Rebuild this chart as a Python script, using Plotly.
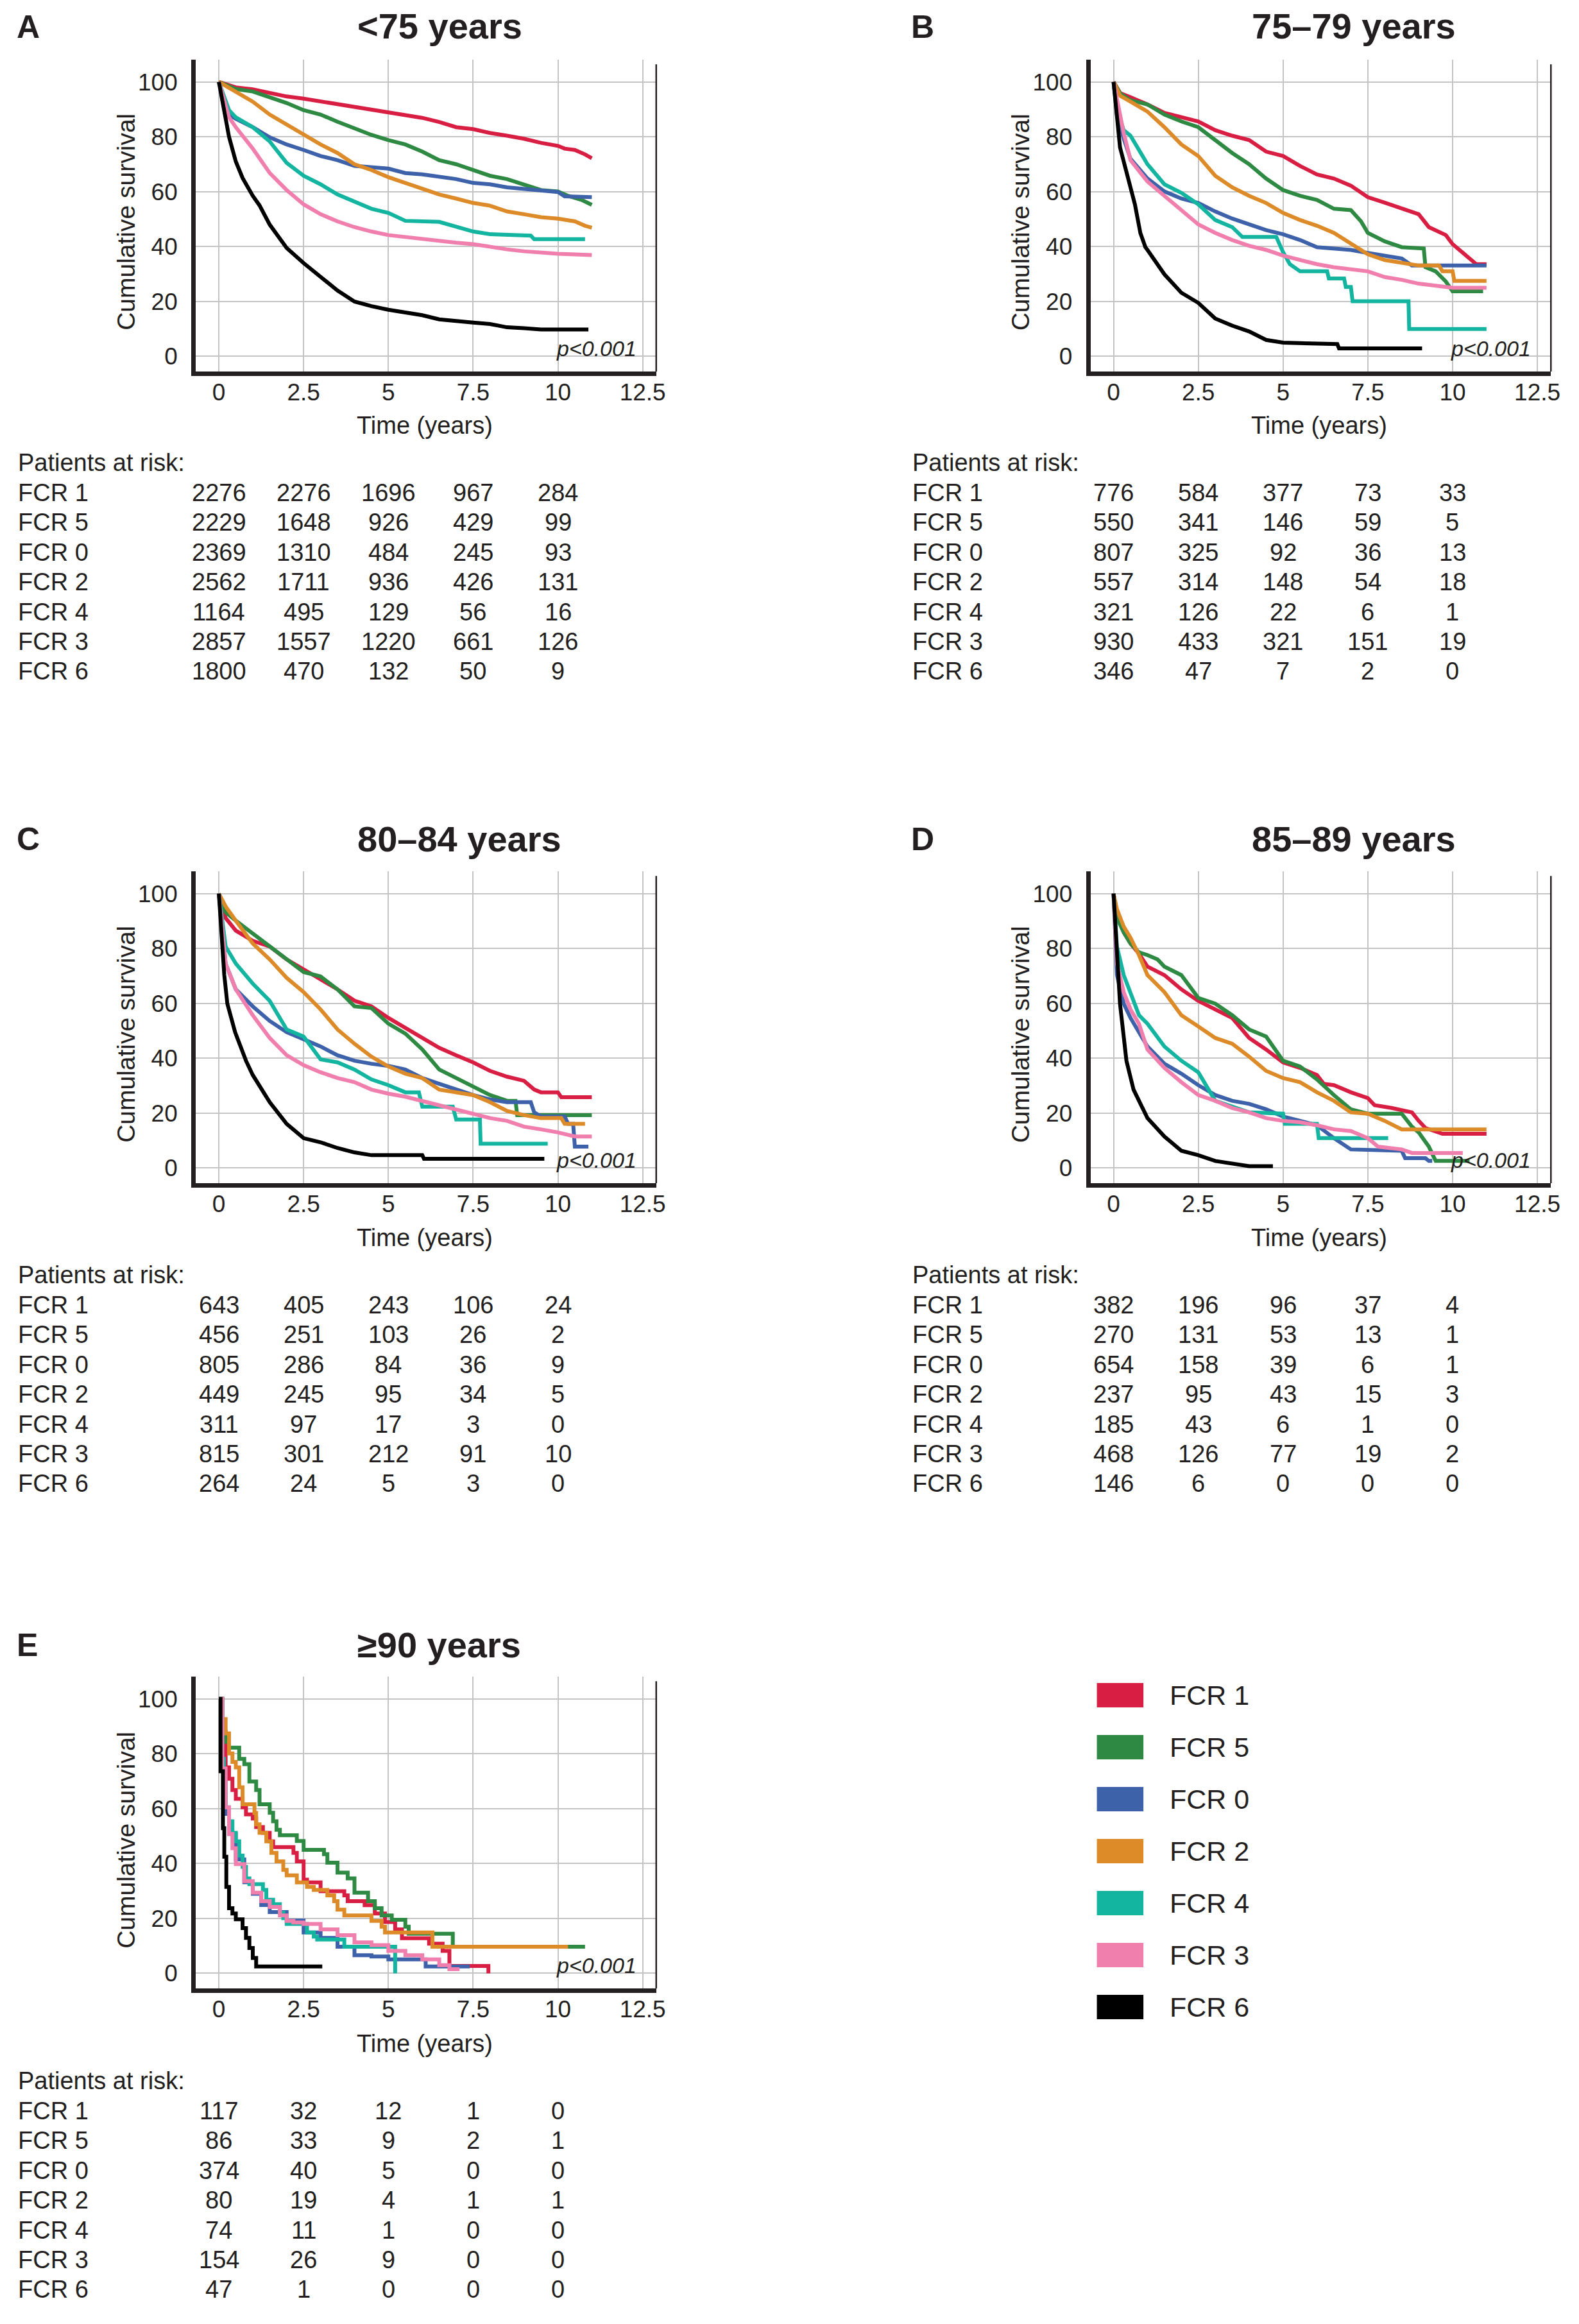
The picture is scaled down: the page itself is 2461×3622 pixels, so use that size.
import plotly.graph_objects as go

W, H = 2461, 3622
FONT = "Liberation Sans, Arial, Helvetica, sans-serif"
INK = "#231F20"

groups = ["FCR 1", "FCR 5", "FCR 0", "FCR 2", "FCR 4", "FCR 3", "FCR 6"]
colors = ["#D81E42", "#2E8A43", "#3D62AA", "#DD8A28", "#14B5A0", "#F07FAD", "#000000"]
panel_ids = ["A", "B", "C", "D", "E"]
titles = ["<75 years", "75–79 years", "80–84 years", "85–89 years", "≥90 years"]
risk_times = [0, 2.5, 5, 7.5, 10]
x_ticks = [0, 2.5, 5, 7.5, 10, 12.5]
x_tick_text = ["0", "2.5", "5", "7.5", "10", "12.5"]
y_ticks = [0, 20, 40, 60, 80, 100]

# ---------------- Panel A (<75 years) ----------------
A1_t = [0, 0.5, 1, 2, 2.5, 5, 6, 6.5, 7, 7.5, 8, 8.5, 9, 9.5, 10, 10.2, 10.5, 10.8, 11.0]
A1_s = [100, 98, 97.3, 94.7, 93.9, 88.7, 86.9, 85.4, 83.5, 82.8, 81.4, 80.4, 79.3, 77.8, 76.7, 75.7, 75.2, 73.6, 72.2]
A5_t = [0, 0.5, 1, 2, 2.5, 3, 3.5, 4, 4.5, 5, 5.5, 6, 6.5, 7, 7.5, 8, 8.5, 9, 9.5, 10, 10.3, 10.7, 11]
A5_s = [100, 97.4, 96.5, 92.3, 89.7, 88.1, 85.5, 83, 80.7, 78.8, 77.2, 74.6, 71.5, 70, 67.9, 65.8, 64.6, 62.7, 60.6, 60.1, 58.5, 57, 55.2]
A0_t = [0, 0.3, 0.5, 1, 1.5, 2, 2.5, 3, 3.5, 4, 5, 5.5, 6, 6.5, 7, 7.5, 8, 8.5, 9, 9.5, 10, 10.2, 11]
A0_s = [100, 88, 86.6, 83.5, 79.8, 77.2, 75.2, 73, 71.5, 69.4, 68.4, 66.8, 66.3, 65.5, 64.6, 63.2, 62.7, 61.6, 61.1, 60.4, 59.9, 58.3, 58]
A2_t = [0, 0.5, 1, 1.5, 2, 2.5, 3, 3.5, 4, 4.5, 5, 5.5, 6, 6.5, 7, 7.5, 8, 8.5, 9, 9.5, 10, 10.5, 10.8, 11]
A2_s = [100, 96.5, 92.8, 88.1, 84.5, 80.9, 77.2, 74.1, 70, 67.9, 65.3, 63.2, 61.1, 59, 57.5, 55.9, 54.9, 52.8, 51.8, 50.7, 50.2, 49.2, 47.6, 46.9]
A4_t = [0, 0.3, 0.5, 1, 1.5, 2, 2.5, 3, 3.5, 4, 4.5, 5, 5.5, 6.5, 7, 7.5, 8, 9.2, 9.3, 10.8]
A4_s = [100, 89.7, 87.1, 83.5, 78.3, 70.5, 65.8, 62.7, 59, 56.4, 53.8, 52.3, 49.4, 49, 47.1, 45.5, 44.5, 44, 42.7, 42.7]
A3_t = [0, 0.3, 0.5, 1, 1.5, 2, 2.5, 3, 3.5, 4, 4.5, 5, 5.5, 6, 6.5, 7, 7.5, 8, 8.5, 9, 9.5, 10, 11]
A3_s = [100, 87.1, 83.5, 75.7, 66.8, 60.6, 55.4, 51.8, 49.2, 47.1, 45.5, 44.2, 43.5, 42.7, 41.9, 41.4, 40.9, 39.8, 39, 38.3, 37.7, 37.4, 36.9]
A6_t = [0, 0.1, 0.2, 0.3, 0.5, 0.7, 1, 1.2, 1.5, 2, 2.5, 3, 3.5, 4, 4.5, 5, 5.5, 6, 6.5, 7, 7.5, 8, 8.5, 9, 9.5, 10.9]
A6_s = [100, 93, 86, 80, 71, 65, 58.5, 55, 48, 39.5, 34, 29, 24, 20, 18.3, 17, 16, 15, 13.5, 12.8, 12.3, 11.8, 10.6, 10.3, 9.8, 9.8]

# ---------------- Panel B (75–79 years) ----------------
B1_t = [0, 0.2, 0.5, 1, 1.5, 2, 2.5, 3, 3.5, 4, 4.5, 5, 5.5, 6, 6.5, 7, 7.5, 8, 8.5, 9, 9.3, 9.5, 9.8, 10, 10.3, 10.5, 10.7, 11]
B1_s = [100, 95.9, 94.4, 91.8, 88.7, 87.1, 85.6, 82.4, 80.4, 78.8, 74.6, 73, 69.4, 66.3, 64.8, 62.2, 58, 56, 53.8, 51.8, 47.1, 46, 44.2, 40.9, 37.7, 35.7, 33.6, 33.6]
B5_t = [0, 0.2, 0.5, 1, 1.5, 2, 2.5, 3, 3.5, 4, 4.5, 5, 5.5, 6, 6.5, 7, 7.3, 7.5, 8, 8.5, 9.15, 9.2, 9.5, 9.8, 10, 10.9]
B5_s = [100, 95.7, 93.3, 91.8, 88.1, 85.6, 83.5, 78.8, 74.1, 70, 64.8, 60.6, 58.5, 57, 53.8, 53.3, 49.2, 45, 41.9, 39.8, 39.3, 32.5, 31, 27.3, 23.7, 23.7]
B0_t = [0, 0.1, 0.3, 0.5, 1, 1.5, 2, 2.5, 3, 3.5, 4, 4.5, 5, 5.5, 6, 6.5, 7, 7.5, 8, 8.5, 8.8, 11]
B0_s = [100, 88, 79.3, 72, 64.8, 60.1, 57.5, 55.9, 52.8, 50.2, 48.1, 46, 44.5, 42.4, 39.8, 39.3, 38.8, 37.7, 36.7, 35.7, 33.1, 33.1]
B2_t = [0, 0.2, 0.5, 1, 1.5, 2, 2.5, 3, 3.5, 4, 4.5, 5, 5.5, 6, 6.5, 7, 7.5, 8, 8.5, 9, 9.6, 9.7, 10, 10.05, 11]
B2_s = [100, 94.9, 92.8, 89.2, 83.5, 77.2, 73, 65.8, 61.6, 58.5, 55.9, 52.3, 49.7, 47.6, 45, 40.9, 37.2, 35.1, 34.1, 33.1, 33.1, 31, 31, 27.5, 27.5]
B4_t = [0, 0.1, 0.3, 0.5, 1, 1.5, 2, 2.5, 3, 3.5, 3.8, 4.8, 5, 5.2, 5.5, 6.3, 6.35, 6.8, 6.85, 7.0, 7.05, 8.7, 8.72, 11]
B4_s = [100, 90, 82.4, 80.4, 70, 62.7, 59.6, 55.4, 49.7, 47.1, 43.5, 43.5, 38, 33.6, 31, 31, 28.4, 28.4, 25.3, 25.3, 20.1, 20.1, 10, 10]
B3_t = [0, 0.3, 0.5, 1, 1.5, 2, 2.5, 3, 3.5, 4, 4.5, 5, 5.5, 6, 6.5, 7, 7.5, 8, 8.5, 9, 9.5, 10, 11]
B3_s = [100, 81.4, 71.5, 63.7, 58.5, 53.3, 48.1, 45, 42.4, 40.3, 38.8, 36.7, 35.1, 33.6, 32.5, 31.7, 31, 28.9, 27.9, 26.5, 25.8, 25, 25]
B6_t = [0, 0.12, 0.19, 0.41, 0.63, 0.79, 0.94, 1, 1.5, 2, 2.5, 3, 3.5, 4, 4.5, 5, 6.6, 6.65, 9.1]
B6_s = [100, 86.6, 76.2, 65.8, 55.4, 45, 39.8, 38.8, 29.9, 23.2, 19.5, 13.8, 11.2, 9.1, 6, 5, 4.5, 2.9, 2.9]

# ---------------- Panel C (80–84 years) ----------------
C1_t = [0, 0.2, 0.5, 1, 1.5, 2, 2.5, 3, 3.5, 4, 4.5, 5, 5.5, 6, 6.5, 7, 7.5, 8, 8.5, 9, 9.3, 9.5, 10, 10.1, 11]
C1_s = [100, 91.1, 86.5, 82.8, 80.7, 76, 72.4, 68.8, 65.1, 61, 58.9, 54.7, 51, 47.4, 43.8, 41.1, 38.5, 35.4, 33.3, 31.8, 28.6, 27.6, 27.6, 25.8, 25.8]
C5_t = [0, 0.2, 0.5, 1, 1.5, 2, 2.5, 3, 3.5, 4, 4.5, 5, 5.5, 6, 6.5, 7, 7.5, 8, 8.5, 8.75, 8.8, 11]
C5_s = [100, 93.2, 90.1, 85.4, 80.7, 76, 71.4, 69.8, 65.1, 58.9, 58.3, 52.6, 49, 43.2, 35.9, 32.8, 29.7, 26.6, 24.5, 24.5, 19.3, 19.3]
C0_t = [0, 0.2, 0.5, 1, 1.5, 2, 2.5, 3, 3.5, 4, 4.5, 5, 5.5, 6, 6.5, 7, 7.5, 8, 8.5, 9.2, 9.3, 9.5, 10.2, 10.3, 10.45, 10.5, 10.9]
C0_s = [100, 74.5, 65.1, 58.9, 53.6, 49.5, 46.9, 44.3, 41.1, 39.1, 38, 37.2, 35.9, 32.8, 30.7, 28.6, 26.6, 25, 24, 24, 20.3, 18.8, 18.8, 16.1, 16.1, 7.8, 7.8]
C2_t = [0, 0.2, 0.5, 1, 1.5, 2, 2.5, 3, 3.5, 4, 4.5, 5, 5.5, 6, 6.5, 7, 7.5, 8, 8.5, 9, 9.5, 10.1, 10.2, 10.8]
C2_s = [100, 95.3, 90.1, 81.8, 76, 69.3, 64.1, 57.8, 50.5, 45.3, 40.6, 37, 34.4, 32.8, 28.6, 27.6, 26.6, 24, 20.8, 19.3, 18.2, 18.2, 16.1, 16.1]
C4_t = [0, 0.2, 0.5, 1, 1.5, 2, 2.5, 3, 3.5, 4, 4.5, 5, 5.5, 5.9, 6.0, 6.9, 7.0, 7.7, 7.72, 9.7]
C4_s = [100, 80.7, 74.5, 67.2, 60.9, 50.5, 47.9, 39.6, 38.5, 35.9, 32.3, 30.2, 27.6, 27.6, 22.4, 22.4, 17.7, 17.7, 8.9, 8.9]
C3_t = [0, 0.2, 0.5, 1, 1.5, 2, 2.5, 3, 3.5, 4, 4.5, 5, 5.5, 6, 6.5, 7, 7.5, 8, 8.5, 9, 9.5, 10, 10.5, 11]
C3_s = [100, 74.5, 65.1, 55.7, 47.4, 41.1, 37.5, 34.9, 32.8, 31.3, 28.6, 27.1, 26, 24.5, 22.9, 21.4, 19.8, 18.2, 17.2, 15.1, 14.1, 13, 11.5, 11.5]
C6_t = [0, 0.06, 0.16, 0.25, 0.48, 0.8, 1, 1.5, 2, 2.5, 3, 3.5, 4, 4.5, 6, 6.05, 9.6]
C6_s = [100, 88, 70.3, 59.9, 49.5, 39.1, 33.9, 24, 16.1, 10.9, 9.4, 7.3, 5.7, 4.7, 4.7, 3.4, 3.4]

# ---------------- Panel D (85–89 years) ----------------
D1_t = [0, 0.1, 0.3, 0.5, 0.75, 1, 1.5, 2, 2.5, 3, 3.5, 4, 4.5, 5, 5.5, 6, 6.2, 6.5, 7, 7.5, 7.7, 8.2, 8.8, 9, 9.2, 9.7, 11]
D1_s = [100, 92.2, 85.9, 81.8, 78.1, 73.4, 70.3, 65.1, 60.9, 57.8, 54.7, 47.4, 43.2, 38.5, 36.5, 33.9, 30.7, 30.2, 27.6, 25.5, 22.9, 21.9, 20.3, 17.2, 14.6, 12.5, 12.5]
D5_t = [0, 0.1, 0.3, 0.5, 0.75, 1, 1.3, 1.5, 2, 2.5, 3, 3.5, 4, 4.5, 5, 5.5, 6, 6.5, 7, 7.5, 8.5, 8.8, 9, 9.3, 9.5, 10.5]
D5_s = [100, 91.1, 85.9, 81.8, 78.6, 77.6, 76, 73.4, 70.3, 62, 59.9, 55.7, 50.5, 47.9, 39.1, 37, 32.3, 26.6, 21.4, 19.8, 19.8, 15.1, 13, 7.8, 2.6, 2.6]
D0_t = [0, 0.1, 0.3, 0.5, 1, 1.5, 2, 2.5, 3, 3.5, 4, 4.5, 5, 5.5, 6, 6.5, 7, 8.5, 8.6, 9.2, 9.3, 9.4]
D0_s = [100, 70.3, 59.9, 54.7, 44.3, 38, 34.4, 30.2, 26.6, 24.5, 23.4, 21.4, 18.8, 17.2, 15.6, 10.9, 6.8, 6.3, 3.6, 3.6, 2.6, 2.6]
D2_t = [0, 0.1, 0.3, 0.5, 0.75, 1, 1.5, 2, 2.5, 3, 3.5, 4, 4.5, 5, 5.5, 6, 6.5, 7, 7.5, 8, 8.5, 11]
D2_s = [100, 94.3, 88, 83.9, 77.6, 70.3, 64.1, 55.7, 51.6, 47.4, 45.3, 40.6, 35.4, 32.8, 31.3, 27.6, 24.5, 20.3, 19.8, 17.2, 14.1, 14.1]
D4_t = [0, 0.1, 0.3, 0.5, 0.75, 1, 1.3, 1.5, 2, 2.5, 3, 3.5, 4, 5, 5.05, 6, 6.05, 8.1]
D4_s = [100, 80.7, 70.3, 64.1, 55.7, 52.6, 47.4, 44.3, 39.1, 34.9, 24.5, 22.4, 20.3, 19.8, 16.1, 16.1, 10.9, 10.9]
D3_t = [0, 0.1, 0.3, 0.5, 0.75, 1, 1.5, 2, 2.5, 3, 3.5, 4, 4.5, 5, 5.5, 6, 6.5, 7, 7.5, 7.8, 8.5, 8.8, 10.3]
D3_s = [100, 74.5, 64.1, 57.8, 52.6, 43.2, 36.5, 31.3, 26.6, 24.5, 21.9, 20.3, 18.2, 17.2, 16.7, 15.6, 14.1, 13.5, 10.9, 7.8, 6.8, 5.5, 5.5]
D6_t = [0, 0.09, 0.19, 0.38, 0.59, 1, 1.5, 2, 2.5, 3, 3.5, 4, 4.7]
D6_s = [100, 80.7, 59.9, 39.1, 28.6, 18.2, 11.5, 6.3, 4.7, 2.6, 1.6, 0.7, 0.7]

# ---------------- Panel E (>=90 years), step points ----------------
E1_t = [0, 0.1, 0.2, 0.3, 0.4, 0.5, 0.7, 0.8, 1, 1.1, 1.3, 1.5, 1.6, 2.2, 2.3, 2.5, 2.6, 3, 3.7, 3.8, 4.3, 4.6, 4.9, 5.2, 5.4, 6.2, 6.6, 6.8, 7.95]
E1_s = [100, 83.3, 75, 70.9, 66.8, 63.6, 60.5, 57.9, 56.4, 53.3, 51.2, 48.1, 46, 43.9, 40.8, 34.1, 33.1, 29.9, 28.4, 26.3, 24.8, 21.8, 18.7, 16, 12.8, 10.8, 8.2, 2.7, 0]
E5_t = [0, 0.1, 0.2, 0.3, 0.6, 0.75, 0.9, 1.1, 1.2, 1.5, 1.6, 1.7, 1.8, 2.3, 2.5, 3.1, 3.2, 3.5, 3.8, 4.0, 4.4, 4.6, 4.8, 5.1, 5.5, 5.6, 6.9, 10.8]
E5_s = [100, 88.1, 84.3, 82.2, 78.1, 76.2, 69.9, 66.8, 61.6, 58.5, 55.4, 52.3, 50.3, 48.2, 45, 43.4, 40.3, 36.7, 34.6, 29.4, 26.3, 23.7, 21.1, 19.5, 17, 14.4, 9.7, 9.7]
E0_t = [0, 0.1, 0.2, 0.3, 0.5, 0.75, 1, 1.25, 1.5, 2, 2.5, 3, 3.5, 4, 4.5, 5, 6.1, 7.4]
E0_s = [100, 73.6, 58.1, 50.8, 41.5, 33.2, 29, 24.9, 22.3, 19.2, 14.9, 12.9, 9.7, 6.6, 6.1, 5.1, 2.5, 2.5]
E2_t = [0, 0.1, 0.2, 0.3, 0.4, 0.5, 0.6, 0.7, 1.05, 1.1, 1.2, 1.4, 1.55, 1.7, 1.9, 2.0, 2.3, 2.6, 2.8, 3.2, 3.4, 3.5, 3.7, 4.5, 4.8, 4.9, 6.3, 10.3]
E2_s = [100, 92.6, 87.4, 80.1, 77, 75, 67.8, 61.6, 58.4, 54.3, 51.2, 48.1, 43.9, 40.8, 37.7, 35.7, 33.1, 31.5, 30.4, 28.4, 26.3, 23.2, 21.1, 19.1, 17, 14.9, 9.7, 9.7]
E4_t = [0, 0.1, 0.15, 0.2, 0.3, 0.4, 0.5, 0.6, 0.7, 0.8, 0.9, 1.3, 1.4, 1.6, 1.8, 1.9, 2.0, 2.6, 2.8, 2.9, 3.7, 5.2]
E4_s = [100, 78.1, 67.8, 60.5, 55.4, 51.2, 48.1, 42.9, 38.8, 34.6, 32.5, 30.4, 26.8, 25.2, 22.1, 20.1, 18, 14.9, 13.4, 12.3, 9.7, 0]
E3_t = [0, 0.1, 0.2, 0.3, 0.4, 0.5, 0.75, 1, 1.25, 1.5, 1.8, 2, 2.2, 2.5, 3, 3.5, 4, 4.5, 5, 5.5, 6, 6.5, 6.8, 7.1]
E3_s = [100, 74.6, 60.5, 50.8, 45.6, 39.8, 33.6, 29.4, 26.3, 24.2, 21.1, 19.1, 18.5, 18, 16, 13.9, 11.3, 10.3, 8.2, 6.6, 5.1, 3, 1.5, 1.5]
E6_t = [0, 0.05, 0.12, 0.16, 0.22, 0.3, 0.4, 0.5, 0.7, 0.8, 0.9, 1.0, 1.1, 3.05]
E6_s = [100, 73.6, 52.9, 42.5, 31.5, 23.7, 21.8, 19.7, 16.5, 12.9, 9.2, 5.6, 2.5, 2.5]

# ---------------- Patients at risk ----------------
risk_A = [[2276, 2276, 1696, 967, 284], [2229, 1648, 926, 429, 99], [2369, 1310, 484, 245, 93],
          [2562, 1711, 936, 426, 131], [1164, 495, 129, 56, 16], [2857, 1557, 1220, 661, 126],
          [1800, 470, 132, 50, 9]]
risk_B = [[776, 584, 377, 73, 33], [550, 341, 146, 59, 5], [807, 325, 92, 36, 13],
          [557, 314, 148, 54, 18], [321, 126, 22, 6, 1], [930, 433, 321, 151, 19],
          [346, 47, 7, 2, 0]]
risk_C = [[643, 405, 243, 106, 24], [456, 251, 103, 26, 2], [805, 286, 84, 36, 9],
          [449, 245, 95, 34, 5], [311, 97, 17, 3, 0], [815, 301, 212, 91, 10],
          [264, 24, 5, 3, 0]]
risk_D = [[382, 196, 96, 37, 4], [270, 131, 53, 13, 1], [654, 158, 39, 6, 1],
          [237, 95, 43, 15, 3], [185, 43, 6, 1, 0], [468, 126, 77, 19, 2],
          [146, 6, 0, 0, 0]]
risk_E = [[117, 32, 12, 1, 0], [86, 33, 9, 2, 1], [374, 40, 5, 0, 0],
          [80, 19, 4, 1, 1], [74, 11, 1, 0, 0], [154, 26, 9, 0, 0],
          [47, 1, 0, 0, 0]]

curves = {
    "A": [(A1_t, A1_s), (A5_t, A5_s), (A0_t, A0_s), (A2_t, A2_s), (A4_t, A4_s), (A3_t, A3_s), (A6_t, A6_s)],
    "B": [(B1_t, B1_s), (B5_t, B5_s), (B0_t, B0_s), (B2_t, B2_s), (B4_t, B4_s), (B3_t, B3_s), (B6_t, B6_s)],
    "C": [(C1_t, C1_s), (C5_t, C5_s), (C0_t, C0_s), (C2_t, C2_s), (C4_t, C4_s), (C3_t, C3_s), (C6_t, C6_s)],
    "D": [(D1_t, D1_s), (D5_t, D5_s), (D0_t, D0_s), (D2_t, D2_s), (D4_t, D4_s), (D3_t, D3_s), (D6_t, D6_s)],
    "E": [(E1_t, E1_s), (E5_t, E5_s), (E0_t, E0_s), (E2_t, E2_s), (E4_t, E4_s), (E3_t, E3_s), (E6_t, E6_s)],
}
risks = {"A": risk_A, "B": risk_B, "C": risk_C, "D": risk_D, "E": risk_E}

# ---------------- layout geometry (pixels) ----------------
col_off = {"A": 0, "B": 1403, "C": 0, "D": 1403, "E": 0}
row_off = {"A": 0, "B": 0, "C": 1265, "D": 1265, "E": 2520}
text_row_off = {"A": 0, "B": 0, "C": 1266, "D": 1266, "E": 2522}
PL, PR, PT, PB = 299, 1021, 85, 571
X_RANGE = [-0.68, 12.9]
Y_RANGE = [-5.5, 108.1]


def px(x):
    return x / W


def py(y):
    return 1 - y / H


fig = go.Figure()
annotations = []
shapes = []
layout_axes = {}

for k, pid in enumerate(panel_ids):
    n = k + 1
    xa = "x" if n == 1 else f"x{n}"
    ya = "y" if n == 1 else f"y{n}"
    dx, dy = col_off[pid], row_off[pid]
    ty = text_row_off[pid]
    line_shape = "hv" if pid == "E" else "linear"

    for g, (t, s) in enumerate(curves[pid]):
        fig.add_trace(go.Scatter(x=t, y=s, mode="lines", xaxis=xa, yaxis=ya,
                                 line=dict(color=colors[g], width=6, shape=line_shape),
                                 name=groups[g], showlegend=False, hoverinfo="skip"))

    xkey = "xaxis" if n == 1 else f"xaxis{n}"
    ykey = "yaxis" if n == 1 else f"yaxis{n}"
    layout_axes[xkey] = dict(
        domain=[px(PL + dx), px(PR + dx)], anchor=ya, range=X_RANGE,
        tickvals=x_ticks, ticktext=x_tick_text, showgrid=True, gridcolor="#C4C4C4",
        gridwidth=2, zeroline=False, showline=True, linewidth=7, linecolor=INK,
        ticks="", ticklabelstandoff=-6,
        tickfont=dict(family=FONT, size=37, color=INK), fixedrange=True)
    layout_axes[ykey] = dict(
        domain=[py(PB + dy), py(PT + dy)], anchor=xa, range=Y_RANGE,
        tickvals=y_ticks, showgrid=True, gridcolor="#C4C4C4", gridwidth=2,
        zeroline=False, showline=True, linewidth=7, linecolor=INK,
        ticks="outside", ticklen=14, tickcolor="rgba(0,0,0,0)",
        tickfont=dict(family=FONT, size=37, color=INK), fixedrange=True)

    # thin right frame line
    shapes.append(dict(type="line", xref=f"{xa} domain", yref=f"{ya} domain",
                       x0=1, x1=1, y0=0, y1=0.985, line=dict(color=INK, width=2.5)))

    # panel letter and title
    annotations.append(dict(text=f"<b>{pid}</b>", xref="paper", yref="paper",
                            x=px(16 + dx), y=py(34 + ty), xanchor="left", yanchor="middle",
                            showarrow=False, font=dict(family=FONT, size=50, color=INK)))
    annotations.append(dict(text=f"<b>{titles[k]}</b>", xref="paper", yref="paper",
                            x=px(550 + dx), y=py(33 + ty), xanchor="left", yanchor="middle",
                            showarrow=False, font=dict(family=FONT, size=56, color=INK)))
    # axis titles
    annotations.append(dict(text="Cumulative survival", xref="paper", yref="paper",
                            x=px(189 + dx), y=py(338 + ty), xanchor="center", yanchor="middle",
                            textangle=-90, showarrow=False,
                            font=dict(family=FONT, size=39, color=INK)))
    annotations.append(dict(text="Time (years)", xref="paper", yref="paper",
                            x=px(658 + dx), y=py(655 + ty), xanchor="center", yanchor="middle",
                            showarrow=False, font=dict(family=FONT, size=38, color=INK)))
    # p-value
    annotations.append(dict(text="<i>p&lt;0.001</i>", xref=xa, yref=ya, x=12.35, y=3,
                            xanchor="right", yanchor="middle", showarrow=False,
                            font=dict(family=FONT, size=34, color=INK)))
    # patients at risk table
    annotations.append(dict(text="Patients at risk:", xref="paper", yref="paper",
                            x=px(18 + dx), y=py(713 + ty), xanchor="left", yanchor="middle",
                            showarrow=False, font=dict(family=FONT, size=38, color=INK)))
    for g, row in enumerate(risks[pid]):
        yrow = py(760 + 46.4 * g + ty)
        annotations.append(dict(text=groups[g], xref="paper", yref="paper",
                                x=px(18 + dx), y=yrow, xanchor="left", yanchor="middle",
                                showarrow=False, font=dict(family=FONT, size=38, color=INK)))
        for j, val in enumerate(row):
            annotations.append(dict(text=str(val), xref=xa, yref="paper",
                                    x=risk_times[j], y=yrow, xanchor="center", yanchor="middle",
                                    showarrow=False, font=dict(family=FONT, size=38, color=INK)))

# ---------------- legend ----------------
for g, name in enumerate(groups):
    cy = 2634 + 81.0 * g
    shapes.append(dict(type="rect", xref="paper", yref="paper",
                       x0=px(1712), x1=px(1785), y0=py(cy + 19), y1=py(cy - 19),
                       fillcolor=colors[g], line=dict(width=0)))
    annotations.append(dict(text=name, xref="paper", yref="paper", x=px(1824), y=py(cy),
                            xanchor="left", yanchor="middle", showarrow=False,
                            font=dict(family=FONT, size=43, color=INK)))

fig.update_layout(width=W, height=H, margin=dict(l=0, r=0, t=0, b=0),
                  paper_bgcolor="white", plot_bgcolor="white", showlegend=False,
                  annotations=annotations, shapes=shapes, **layout_axes)

fig.write_html("out.html")
